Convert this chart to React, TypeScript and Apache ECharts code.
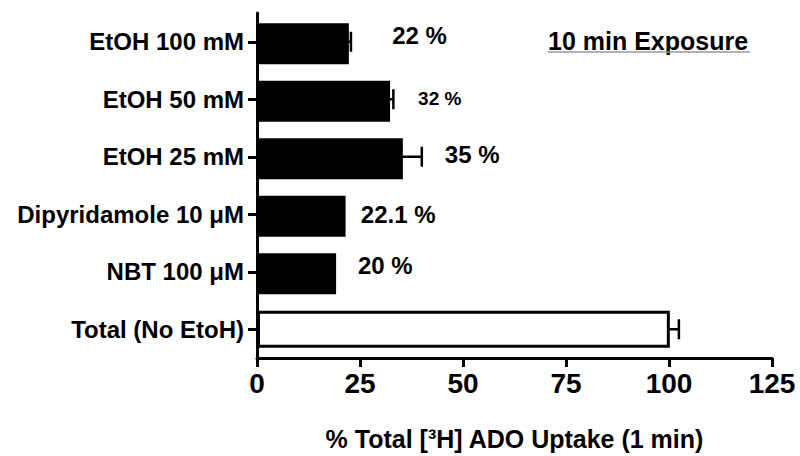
import React, { useEffect, useRef } from "react";
import * as echarts from "echarts";

// ---- data ----
const categories = [
  "EtOH 100 mM",
  "EtOH 50 mM",
  "EtOH 25 mM",
  "Dipyridamole 10 μM",
  "NBT 100 μM",
  "Total (No EtoH)",
];
const uptake = [22.3, 32.3, 35.4, 21.5, 19.2, 100.2];
const sem = [0.5, 0.8, 4.6, 0, 0, 2.2];
const annotationTexts = ["22 %", "32 %", "35 %", "22.1 %", "20 %"];
const annotationX = [32.8, 39.1, 45.6, 25.2, 24.5];
const xMin = 0;
const xMax = 125;
const xStep = 25;
const xTitle = "% Total [³H] ADO Uptake (1 min)";
const panelTitle = "10 min Exposure";

// ---- layout (pixels) ----
const annotationDy = [-6, -1, -2, 0, -6];
const annotationSize = [24, 19, 24, 24, 24];

const FONT = "'Liberation Sans', Arial, sans-serif";

export default function App() {
  const ref = useRef<HTMLDivElement>(null);

  useEffect(() => {
    if (!ref.current) return;
    const chart = echarts.init(ref.current, undefined, { renderer: "svg" });
    const last = categories.length - 1;

    const option: any = {
      animation: false,
      backgroundColor: "#fff",
      grid: { left: 257, top: 13, width: 515, height: 345, containLabel: false },
      xAxis: {
        type: "value",
        min: xMin,
        max: xMax,
        interval: xStep,
        axisLine: { show: true, lineStyle: { color: "#000", width: 3 } },
        axisTick: { show: true, length: 9, lineStyle: { color: "#000", width: 3 } },
        splitLine: { show: false },
        axisLabel: {
          color: "#000",
          fontSize: 28,
          fontWeight: "bold",
          fontFamily: FONT,
          margin: 11,
        },
        name: xTitle,
        nameLocation: "middle",
        nameGap: 68,
        nameTextStyle: {
          color: "#000",
          fontSize: 25,
          fontWeight: "bold",
          fontFamily: FONT,
        },
      },
      yAxis: {
        type: "category",
        inverse: true,
        data: categories,
        axisLine: { show: true, lineStyle: { color: "#000", width: 3 } },
        axisTick: { show: true, alignWithLabel: true, length: 9, lineStyle: { color: "#000", width: 3 } },
        axisLabel: {
          color: "#000",
          fontSize: 24,
          fontWeight: "bold",
          fontFamily: FONT,
          margin: 13,
        },
      },
      series: [
        {
          type: "bar",
          barWidth: 41,
          data: uptake.map((v, i) => (i === last ? "-" : v)),
          itemStyle: { color: "#000" },
          z: 2,
        },
        {
          type: "bar",
          barWidth: 37,
          barGap: "-100%",
          data: uptake.map((v, i) => (i === last ? v : "-")),
          itemStyle: { color: "#fff", borderColor: "#000", borderWidth: 3 },
          z: 2,
        },
        {
          type: "custom",
          z: 3,
          data: uptake.map((v, i) => [v, i, sem[i]]),
          renderItem: (params: any, api: any) => {
            const v = api.value(0);
            const idx = api.value(1);
            const e = api.value(2);
            if (!e) return null;
            const p0 = api.coord([v, idx]);
            const p1 = api.coord([v + e, idx]);
            const half = 10;
            const st = { stroke: "#000", lineWidth: 2.5 };
            return {
              type: "group",
              children: [
                { type: "line", shape: { x1: p0[0] - 2, y1: p0[1], x2: p1[0], y2: p1[1] }, style: st },
                { type: "line", shape: { x1: p1[0], y1: p1[1] - half, x2: p1[0], y2: p1[1] + half }, style: st },
              ],
            };
          },
        },
        {
          type: "custom",
          z: 4,
          data: annotationTexts.map((t, i) => [annotationX[i], i]),
          renderItem: (params: any, api: any) => {
            const i = params.dataIndex;
            const p = api.coord([api.value(0), api.value(1)]);
            return {
              type: "text",
              x: p[0],
              y: p[1] + annotationDy[i],
              style: {
                text: annotationTexts[i],
                fill: "#000",
                font: `bold ${annotationSize[i]}px ${FONT}`,
                textAlign: "left",
                textVerticalAlign: "middle",
              },
            };
          },
        },
      ],
      graphic: [
        {
          type: "text",
          left: 548,
          top: 28,
          style: {
            text: panelTitle,
            fill: "#000",
            font: `bold 25px ${FONT}`,
          },
        },
        {
          type: "line",
          shape: { x1: 548, y1: 52, x2: 750, y2: 52 },
          style: { stroke: "#999", lineWidth: 1.5 },
        },
      ],
    };

    chart.setOption(option);
    return () => chart.dispose();
  }, []);

  return (
    <div
      ref={ref}
      style={{ position: "fixed", left: 0, top: 0, width: 800, height: 456, background: "#fff" }}
    />
  );
}
